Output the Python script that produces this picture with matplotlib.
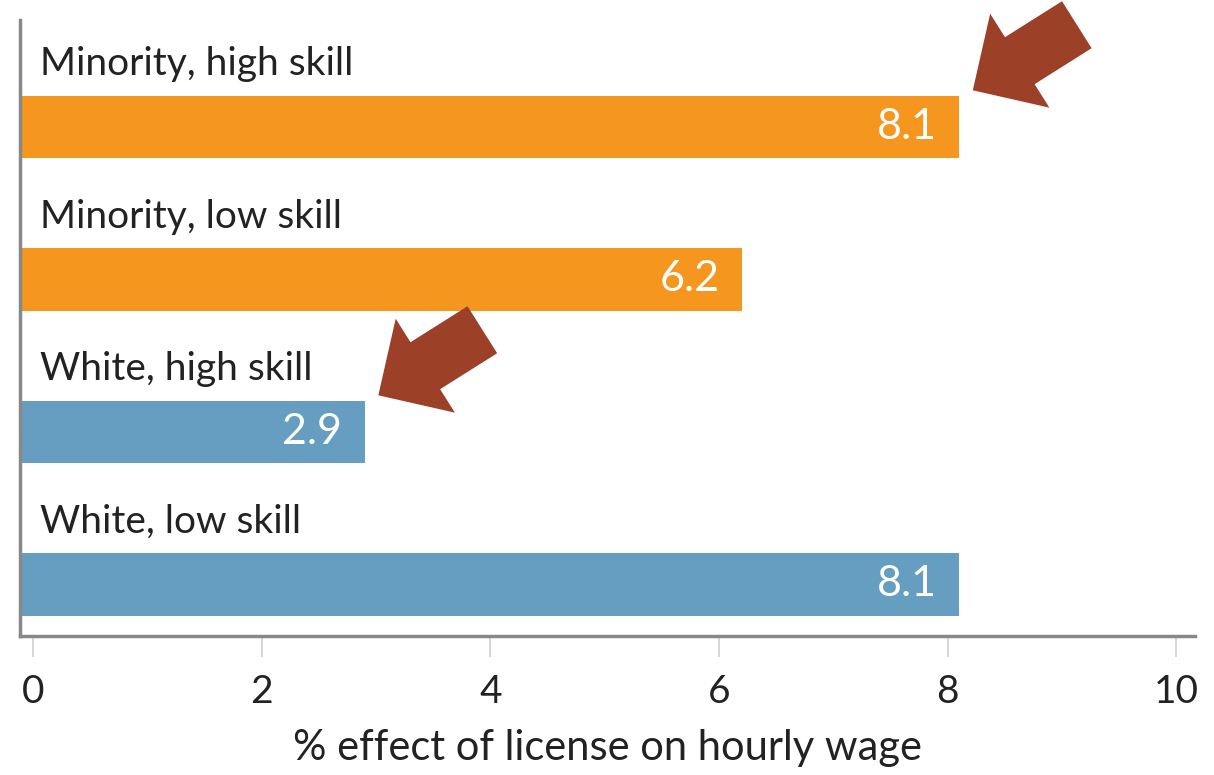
import matplotlib.pyplot as plt

# Data
groups = ["Minority, high skill", "Minority, low skill", "White, high skill", "White, low skill"]
effects = [8.1, 6.2, 2.9, 8.1]
bar_colors = ["#F5961F", "#F5961F", "#669EC2", "#669EC2"]
ticks = [0, 2, 4, 6, 8, 10]
highlighted = [0, 2]  # bars pointed at by arrows

plt.rcParams['font.family'] = ['Lato', 'DejaVu Sans']

fig = plt.figure(figsize=(12.14, 7.75), dpi=100)
ax = fig.add_axes([0.0165, 0.179, 0.9675, 0.795])

xmin, xmax = -0.114, 10.16
ax.set_xlim(xmin, xmax)
ax.set_ylim(3.34, -0.70)

pos = list(range(len(groups)))
ax.barh(pos, [v - xmin for v in effects], left=xmin, height=0.41, color=bar_colors)

for i, (name, val) in enumerate(zip(groups, effects)):
    ax.text(0.06, i - 0.41, name, fontsize=28, color="#222222", va="center", ha="left")
    ax.annotate(f"{val}", xy=(val, i), xytext=(-16, 0), textcoords="offset points",
                fontsize=31, color="white", va="center", ha="right")

# Arrows pointing at the highlighted bars
for i in highlighted:
    val = effects[i]
    tip = (val + 0.12, i - 0.24)
    tail = (val + 1.03, i - 0.67)
    ax.annotate("", xy=tip, xytext=tail, annotation_clip=False,
                arrowprops=dict(arrowstyle="simple,head_length=1.0,head_width=2.0,tail_width=1.0",
                                mutation_scale=40, color="#9C4128", shrinkA=0, shrinkB=0, lw=0))

ax.set_xticks(ticks)
ax.set_xticklabels([str(t) for t in ticks], fontsize=28, color="#222222")
ax.tick_params(axis="x", length=15, width=1.2, color="#D0D0D0", pad=12)
ax.set_yticks([])
ax.set_xlabel("% effect of license on hourly wage", fontsize=30, color="#222222", labelpad=14)

for side in ["top", "right"]:
    ax.spines[side].set_visible(False)
for side in ["left", "bottom"]:
    ax.spines[side].set_color("#888888")
    ax.spines[side].set_linewidth(2.5)

fig.savefig("out.png", dpi=100)
